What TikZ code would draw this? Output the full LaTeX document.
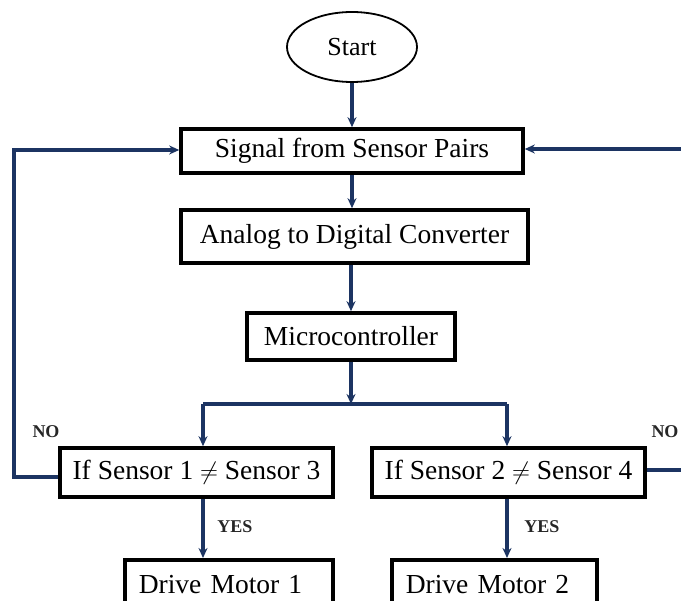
\documentclass[tikz,border=0pt]{standalone}
\usepackage{fontspec}
\setmainfont{Liberation Serif}
\usetikzlibrary{arrows.meta,shapes.geometric}
\definecolor{navy}{RGB}{28,52,98}
\begin{document}
\begin{tikzpicture}[x=1pt,y=-1pt,
  box/.style={draw=black, line width=3.6pt, inner sep=0pt, font=\fontsize{27.5}{30}\selectfont},
  motor/.style={box, anchor=north west, inner xsep=14pt, inner ysep=14pt, align=left, text height=20pt, text depth=30pt},
  conn/.style={draw=navy, line width=3.1pt},
  arr/.style={conn, -{Stealth[length=10pt,width=9pt]}},
  lab/.style={font=\bfseries\fontsize{18}{20}\selectfont, text=black!85}]
\useasboundingbox (0,0) rectangle (681,601);
\clip (0,0) rectangle (681,601);
\node[draw=black, ellipse, line width=1.8pt, minimum width=130pt, minimum height=70pt, font=\fontsize{26}{28}\selectfont] (start) at (352,47) {Start};
\node[box, minimum width=342pt, minimum height=44pt] (signal) at (352,151) {Signal from Sensor Pairs};
\node[box, minimum width=347pt, minimum height=53pt] (adc) at (354.5,236.5) {Analog to Digital Converter};
\node[box, minimum width=208pt, minimum height=47pt] (micro) at (351,336.5) {Microcontroller};
\node[box, minimum width=273pt, minimum height=49pt] (if1) at (196.5,472.5) {If Sensor 1 $\neq$ Sensor 3};
\node[box, minimum width=273pt, minimum height=49pt] (if2) at (508.5,472.5) {If Sensor 2 $\neq$ Sensor 4};
\node[motor, text width=180pt] (dm1) at (123,558) {Drive Motor 1};
\node[motor, text width=177pt] (dm2) at (390,558) {Drive Motor 2};
\coordinate (j) at (351,404);
\coordinate (jl) at (203,404);
\coordinate (jr) at (507,404);
\coordinate (L) at (14,477);
\coordinate (R) at (700,470);
\node[lab] (no1) at (46,432) {NO};
\node[lab] (no2) at (665,432) {NO};
\node[lab] (yes1) at (235,527) {YES};
\node[lab] (yes2) at (542,527) {YES};
\draw[arr] (start.south) -- (start.south |- signal.north);
\draw[arr] (signal.south) -- (signal.south |- adc.north);
\draw[arr] (adc.south -| j) -- (micro.north -| j);
\draw[arr] (micro.south -| j) -- (j);
\draw[conn] (jl) -- (jr);
\draw[arr] (jl) -- (jl |- if1.north);
\draw[arr] (jr) -- (jr |- if2.north);
\draw[arr] (if1.west |- L) -- (L) |- ([yshift=1pt]signal.west);
\draw[arr] (if2.east |- R) -- (R) |- ([yshift=2pt]signal.east);
\draw[arr] (if1.south -| jl) -- (dm1.north -| jl);
\draw[arr] (if2.south -| jr) -- (dm2.north -| jr);
\end{tikzpicture}
\end{document}
